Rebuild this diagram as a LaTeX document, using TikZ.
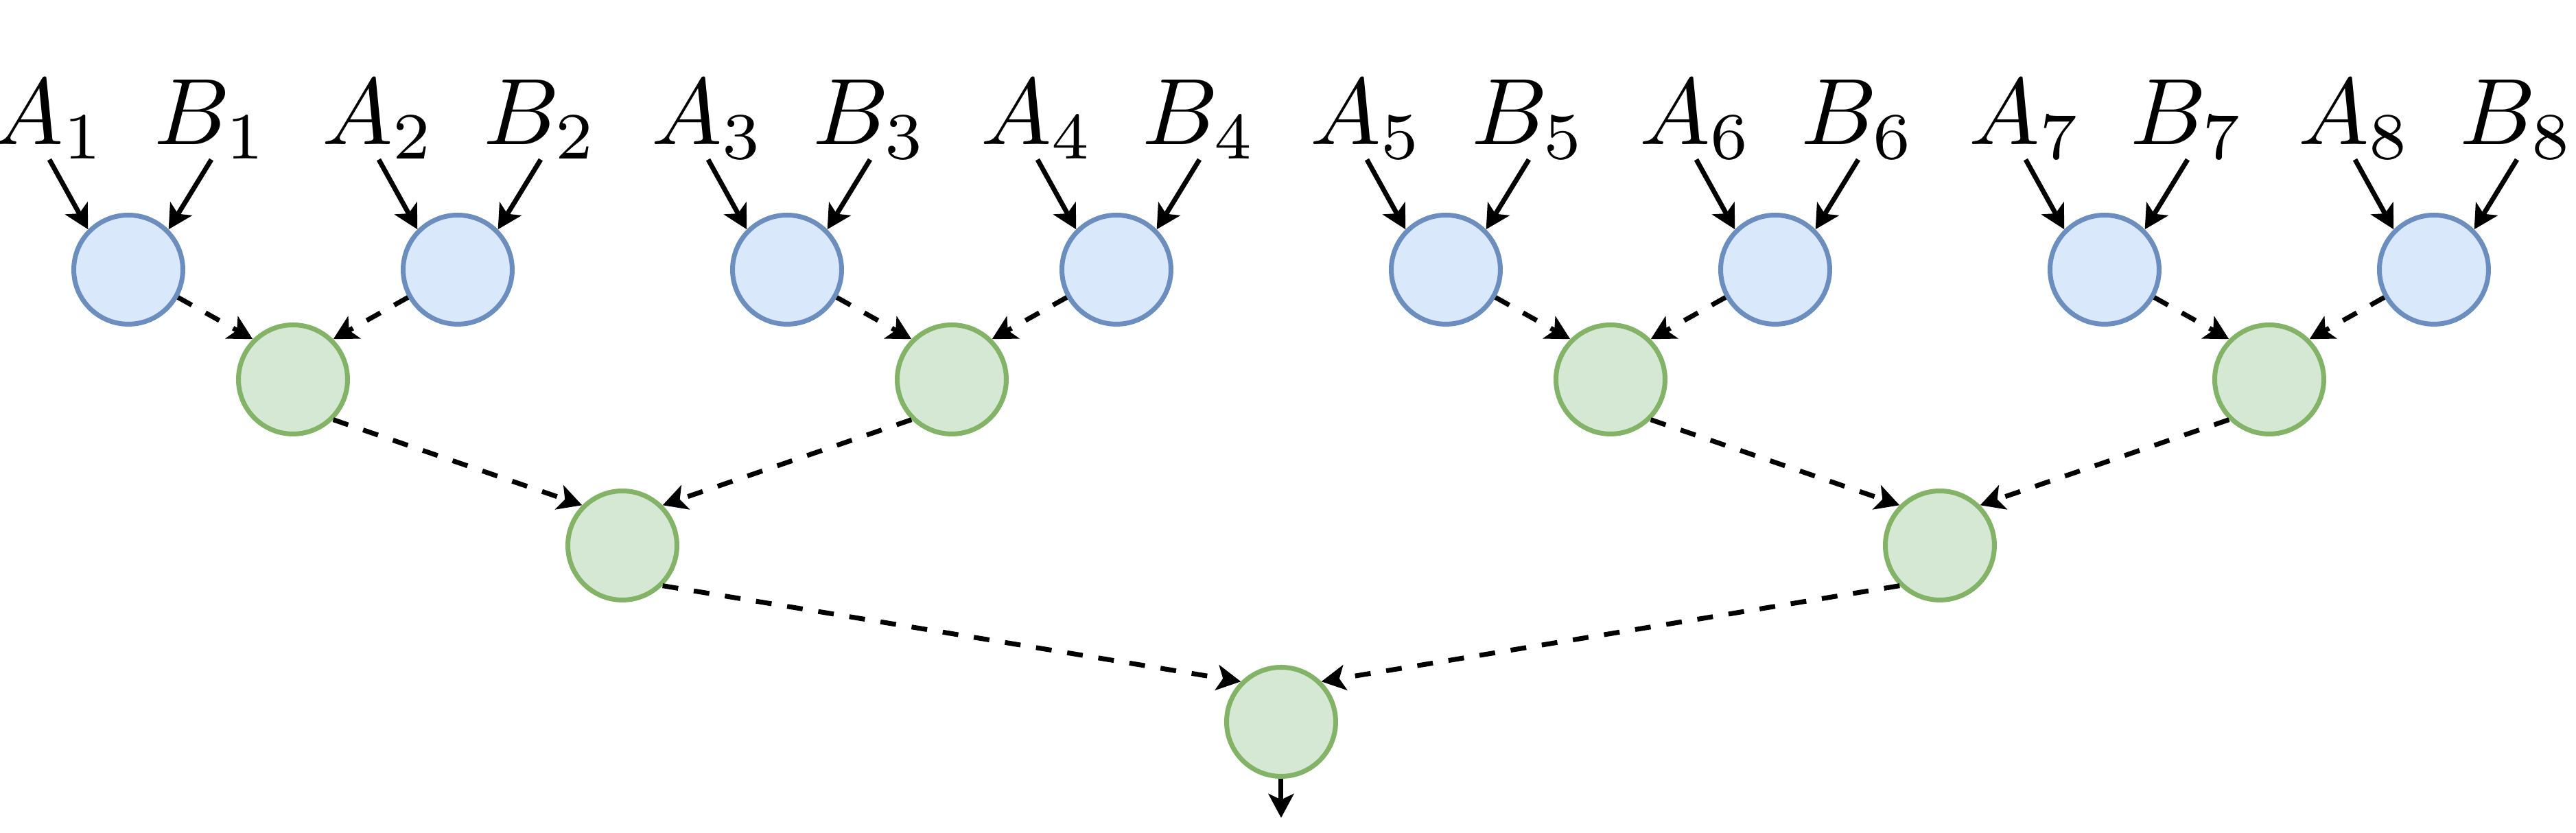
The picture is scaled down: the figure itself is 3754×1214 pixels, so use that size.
\documentclass[tikz,border=0pt]{standalone}
\usetikzlibrary{arrows.meta}
\definecolor{bfill}{HTML}{DAE8FC}
\definecolor{bstroke}{HTML}{6C8EBF}
\definecolor{gfill}{HTML}{D5E8D4}
\definecolor{gstroke}{HTML}{82B366}
\begin{document}
\begin{tikzpicture}[x=0.07266pt,y=-0.07266pt,
  bluenode/.style={circle, draw=bstroke, fill=bfill, line width=0.509pt, minimum size=11.55pt, inner sep=0pt},
  greennode/.style={circle, draw=gstroke, fill=gfill, line width=0.509pt, minimum size=11.55pt, inner sep=0pt},
  lab/.style={inner sep=0pt, outer sep=0.07pt, anchor=base},
  inarrow/.style={-{Stealth[length=2.54pt,width=2.68pt,inset=0.62pt]}, line width=0.509pt},
  dashedge/.style={inarrow, dash pattern=on 1.67pt off 1.67pt}]
\useasboundingbox (0,0) rectangle (3754,1214);
\foreach \i in {1,...,8} {
  \pgfmathsetmacro\xx{187+480*(\i-1)}
  \node[bluenode] (b\i) at (\xx,393) {};
  \node[lab] (la\i) at (\xx-115,211) {$A_{\i}$};
  \node[lab] (lb\i) at (\xx+121,211) {$B_{\i}$};
  \draw[inarrow] (la\i.south) -- (b\i.north west);
  \draw[inarrow] (lb\i.south) -- (b\i.north east);
}
\node[greennode] (g1) at (427,553) {};
\node[greennode] (g2) at (1387,553) {};
\node[greennode] (g3) at (2347,553) {};
\node[greennode] (g4) at (3307,553) {};
\node[greennode] (h1) at (907,795) {};
\node[greennode] (h2) at (2827,795) {};
\node[greennode] (f) at (1867,1052) {};
\coordinate (out) at (1867,1192);
\draw[dashedge] (b1) -- (g1.north west);
\draw[dashedge] (b2) -- (g1.north east);
\draw[dashedge] (b3) -- (g2.north west);
\draw[dashedge] (b4) -- (g2.north east);
\draw[dashedge] (b5) -- (g3.north west);
\draw[dashedge] (b6) -- (g3.north east);
\draw[dashedge] (b7) -- (g4.north west);
\draw[dashedge] (b8) -- (g4.north east);
\draw[dashedge] (g1.south east) -- (h1.north west);
\draw[dashedge] (g2.south west) -- (h1.north east);
\draw[dashedge] (g3.south east) -- (h2.north west);
\draw[dashedge] (g4.south west) -- (h2.north east);
\draw[dashedge] (h1.south east) -- (f.north west);
\draw[dashedge] (h2.south west) -- (f.north east);
\draw[inarrow] (f) -- (out);
\end{tikzpicture}
\end{document}
